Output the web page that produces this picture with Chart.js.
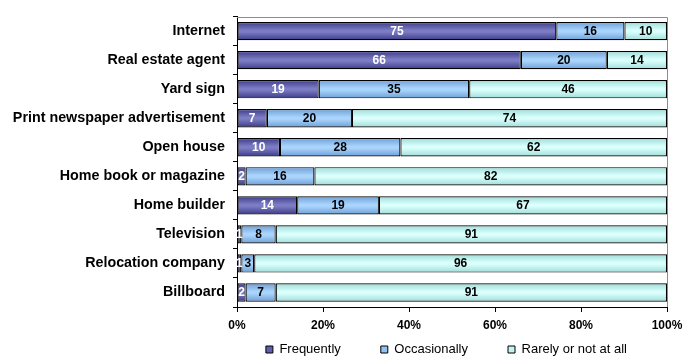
<!DOCTYPE html>
<html>
<head>
<meta charset="utf-8">
<script src="https://cdn.jsdelivr.net/npm/chart.js@4/dist/chart.umd.min.js"></script>
<style>
  html, body { margin: 0; padding: 0; background: #fff; }
  #wrap { width: 697px; height: 362px; position: relative; }
</style>
</head>
<body>
<div id="wrap"><canvas id="c" width="697" height="362"></canvas></div>
<script>
const categories = [
  "Internet",
  "Real estate agent",
  "Yard sign",
  "Print newspaper advertisement",
  "Open house",
  "Home book or magazine",
  "Home builder",
  "Television",
  "Relocation company",
  "Billboard"
];
const frequently   = [75, 66, 19, 7, 10, 2, 14, 1, 1, 2];
const occasionally = [16, 20, 35, 20, 28, 16, 19, 8, 3, 7];
const rarely       = [10, 14, 46, 74, 62, 82, 67, 91, 96, 91];
const seriesNames  = ["Frequently", "Occasionally", "Rarely or not at all"];
const xTicks       = [0, 20, 40, 60, 80, 100];

const FONT = "'Liberation Sans', Arial, Helvetica, sans-serif";
const BAR_PCT = 0.63;
const LEGEND_H = 27;      // layout height reserved for the legend
const LEGEND_SHIFT = 32;  // legend drawing offset (labels.padding is also the item gap)

// colour sets: [edge, centre, flat]
const palettes = [
  ["#3a3a88", "#7c7cc4", "#5f5fad"],
  ["#6d9fd6", "#a9d4fc", "#92c3f2"],
  ["#9edcd8", "#dafffc", "#c4f4f0"]
];
const labelColors = ["#ffffff", "#000000", "#000000"];

const raw = [frequently, occasionally, rarely];
const totals = categories.map((_, i) => frequently[i] + occasionally[i] + rarely[i]);
const pct = raw.map(arr => arr.map((v, i) => v / totals[i] * 100));

function gradFor(pi) {
  return function (ctx) {
    const pal = palettes[pi];
    const chart = ctx.chart;
    const ca = chart.chartArea;
    if (ctx.type !== 'data' || !ca || !chart.scales.y) return pal[2];
    const y = chart.scales.y.getPixelForValue(ctx.dataIndex);
    const half = (ca.bottom - ca.top) / categories.length * BAR_PCT / 2;
    const g = chart.ctx.createLinearGradient(0, y - half, 0, y + half);
    g.addColorStop(0, pal[0]);
    g.addColorStop(0.45, pal[1]);
    g.addColorStop(0.55, pal[1]);
    g.addColorStop(1, pal[0]);
    return g;
  };
}

const datasets = seriesNames.map((name, si) => ({
  label: name,
  data: pct[si],
  rawValues: raw[si],
  backgroundColor: gradFor(si),
  borderColor: "#000000",
  borderWidth: 1.2,
  borderSkipped: false,
  barPercentage: BAR_PCT,
  categoryPercentage: 1.0
}));

const frameAndLabels = {
  id: 'frameAndLabels',
  beforeLayout(chart) {
    const lg = chart.legend;
    if (!lg || lg._patched) return;
    lg._patched = true;
    const fit = lg.fit.bind(lg);
    lg.fit = function () { fit(); this.height = LEGEND_H; };
    const draw = lg.draw.bind(lg);
    lg.draw = function () {
      const t = this.top;
      this.top = t - LEGEND_SHIFT;
      draw();
      this.top = t;
    };
  },
  beforeDatasetsDraw(chart) {
    const { ctx, chartArea: ca } = chart;
    ctx.save();
    ctx.strokeStyle = "#8c8c8c";
    ctx.lineWidth = 1;
    ctx.beginPath();
    ctx.moveTo(ca.left, Math.round(ca.top) + 0.5);
    ctx.lineTo(Math.round(ca.right) + 0.5, Math.round(ca.top) + 0.5);
    ctx.lineTo(Math.round(ca.right) + 0.5, ca.bottom);
    ctx.stroke();
    ctx.restore();
  },
  afterDatasetsDraw(chart) {
    const { ctx } = chart;
    ctx.save();
    ctx.font = "bold 12px " + FONT;
    ctx.textAlign = "center";
    ctx.textBaseline = "middle";
    chart.data.datasets.forEach((ds, di) => {
      const meta = chart.getDatasetMeta(di);
      meta.data.forEach((el, i) => {
        const x = (el.x + el.base) / 2;
        ctx.fillStyle = labelColors[di];
        ctx.fillText(String(ds.rawValues[i]), x, el.y + 0.5);
      });
    });
    ctx.restore();
  }
};

new Chart(document.getElementById('c'), {
  type: 'bar',
  data: { labels: categories, datasets },
  options: {
    indexAxis: 'y',
    responsive: false,
    animation: false,
    events: [],
    layout: { padding: { top: 5, right: 30, left: 0, bottom: 0 } },
    scales: {
      x: {
        stacked: true,
        min: 0,
        max: 100,
        afterBuildTicks(scale) { scale.ticks = xTicks.map(v => ({ value: v })); },
        afterFit(scale) { scale.height = 28; },
        ticks: {
          callback: v => v + '%',
          color: '#000',
          font: { family: FONT, size: 12, weight: 'bold' },
          padding: 6,
          maxRotation: 0
        },
        grid: { drawOnChartArea: false, drawTicks: true, tickLength: 5, color: '#000' },
        border: { display: true, color: '#000', width: 1 }
      },
      y: {
        stacked: true,
        afterFit(scale) { scale.width = 237; },
        ticks: {
          color: '#000',
          font: { family: FONT, size: 14.3, weight: 'bold' },
          padding: 8
        },
        grid: { drawOnChartArea: false, drawTicks: true, tickLength: 4, color: '#000', offset: true },
        border: { display: true, color: '#000', width: 1 }
      }
    },
    plugins: {
      tooltip: { enabled: false },
      legend: {
        position: 'bottom',
        align: 'end',
        labels: {
          boxWidth: 7,
          boxHeight: 7,
          padding: 40,
          color: '#000',
          font: { family: FONT, size: 13 },
          generateLabels(chart) {
            return chart.data.datasets.map((ds, i) => ({
              text: ds.label,
              fillStyle: palettes[i][2],
              strokeStyle: '#000',
              lineWidth: 1,
              fontColor: '#000',
              hidden: false,
              datasetIndex: i
            }));
          }
        }
      }
    }
  },
  plugins: [frameAndLabels]
});
</script>
</body>
</html>
